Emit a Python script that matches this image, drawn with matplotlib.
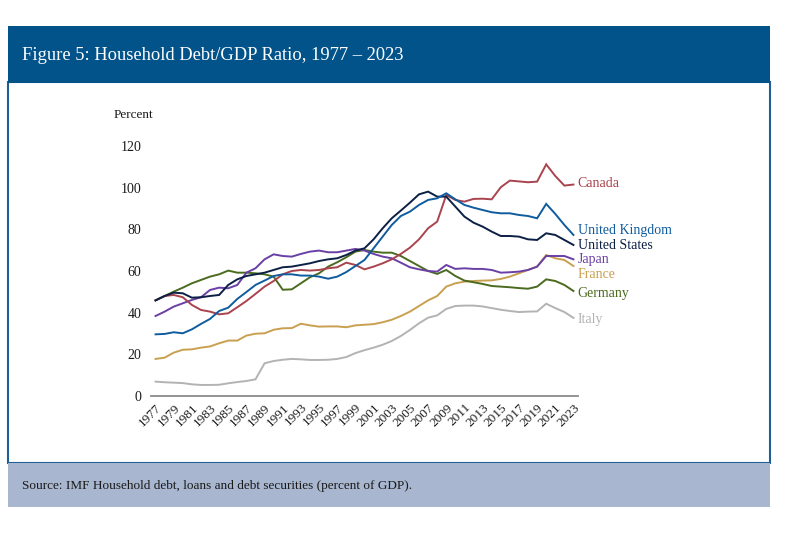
import matplotlib
matplotlib.use("Agg")
import matplotlib.pyplot as plt
from matplotlib.patches import Rectangle

plt.rcParams["font.family"] = ["Liberation Serif", "DejaVu Serif"]

# data (percent of GDP), 1977-2023
years = list(range(1977, 2024))

italy = [6.9, 6.6, 6.4, 6.2, 5.6, 5.3, 5.3, 5.4, 6.1, 6.7, 7.2, 8.0,
         15.7, 16.8, 17.4, 17.8, 17.6, 17.3, 17.3, 17.4, 17.8, 18.7, 20.6, 22.0,
         23.2, 24.6, 26.4, 28.8, 31.7, 34.9, 37.6, 38.7, 41.8, 43.2, 43.4, 43.4,
         43.0, 42.2, 41.4, 40.8, 40.3, 40.5, 40.6, 44.3, 42.2, 40.3, 37.5]
france = [17.8, 18.4, 20.8, 22.2, 22.4, 23.2, 23.8, 25.3, 26.6, 26.6, 29.0, 29.9,
          30.1, 31.8, 32.5, 32.6, 34.7, 33.9, 33.3, 33.4, 33.4, 33.0, 33.9, 34.2,
          34.5, 35.4, 36.6, 38.4, 40.5, 43.2, 45.9, 48.0, 52.5, 54.1, 54.9, 55.2,
          55.4, 55.5, 56.2, 57.3, 58.9, 60.5, 62.1, 67.7, 66.1, 65.3, 62.4]
germany = [45.9, 48.0, 50.1, 52.0, 54.1, 55.7, 57.3, 58.4, 60.2, 59.2, 59.2, 58.9,
           58.4, 57.3, 51.0, 51.2, 54.1, 57.0, 58.9, 62.1, 64.2, 66.6, 69.3, 70.1,
           69.3, 68.8, 68.8, 67.2, 64.8, 62.4, 60.0, 58.6, 60.5, 57.6, 55.4, 54.6,
           53.8, 52.8, 52.5, 52.2, 51.8, 51.5, 52.5, 56.0, 55.2, 53.3, 50.4]
japan = [38.4, 40.5, 42.9, 44.5, 46.1, 47.4, 50.9, 52.0, 51.7, 53.3, 59.2, 61.3,
         65.6, 68.0, 67.2, 66.9, 68.2, 69.3, 69.8, 69.0, 69.0, 69.8, 70.6, 69.8,
         68.2, 66.9, 66.1, 64.0, 61.8, 60.8, 60.0, 59.7, 62.9, 61.0, 61.3, 61.0,
         61.0, 60.5, 59.2, 59.4, 59.7, 60.5, 62.1, 67.2, 67.2, 67.2, 65.6]
canada = [45.9, 48.0, 48.5, 47.4, 43.7, 41.3, 40.5, 39.2, 39.7, 42.6, 45.6, 49.0,
          52.5, 55.2, 58.4, 60.0, 60.5, 60.2, 60.5, 61.3, 61.8, 64.0, 62.9, 60.8,
          62.1, 63.7, 65.6, 68.2, 71.2, 75.2, 80.5, 83.7, 96.5, 94.1, 93.3, 94.6,
          94.7, 94.4, 100.2, 103.4, 103.0, 102.6, 102.9, 111.2, 105.6, 101.0, 101.5]
us = [45.9, 48.0, 49.6, 49.3, 47.2, 47.4, 48.0, 48.5, 53.3, 56.0, 57.6, 58.4,
      59.2, 60.5, 61.8, 62.1, 62.9, 63.7, 64.8, 65.6, 66.1, 67.7, 69.8, 70.9,
      75.2, 80.5, 85.3, 89.0, 92.8, 96.8, 98.1, 95.7, 95.7, 90.9, 86.1, 83.2,
      81.3, 78.9, 76.8, 76.8, 76.5, 75.2, 74.9, 78.1, 77.3, 74.9, 72.5]
uk = [29.6, 29.8, 30.6, 30.1, 32.0, 34.6, 37.0, 40.8, 42.4, 46.6, 49.9, 53.3,
      55.4, 57.6, 58.4, 58.4, 57.8, 57.8, 57.3, 56.3, 57.3, 59.5, 62.4, 65.3,
      70.9, 76.5, 82.1, 86.4, 88.5, 91.7, 94.1, 94.9, 97.3, 94.4, 91.7, 90.4,
      89.3, 88.2, 87.7, 87.7, 86.9, 86.4, 85.3, 92.2, 87.4, 82.1, 77.3]

# name, values, colour, label nudge (points)
series = [
    ("Italy", italy, "#b3b3b3", -1),
    ("France", france, "#c9a04f", -6),
    ("Germany", germany, "#4b6b1f", -1.5),
    ("Japan", japan, "#6a3fa6", 0),
    ("Canada", canada, "#a9434d", 1),
    ("United States", us, "#0c1f45", -0.5),
    ("United Kingdom", uk, "#0f5c9e", 3),
]

fig = plt.figure(figsize=(8, 5.39), dpi=100)
W, H = 800, 539


def box(x0, y0, x1, y1, **kw):
    # pixel box (top-left origin) -> figure rectangle, kept behind the axes
    fig.patches.append(Rectangle((x0 / W, 1 - y1 / H), (x1 - x0) / W, (y1 - y0) / H,
                                 transform=fig.transFigure, zorder=-5, **kw))


box(8, 82, 770, 463, facecolor="white", edgecolor="#1f5e96", linewidth=1.5)
box(8, 26, 770, 83, facecolor="#02538a", edgecolor="none")
box(8, 463, 770, 507, facecolor="#a8b7cf", edgecolor="none")

fig.text(22 / W, 1 - 55 / H, "Figure 5: Household Debt/GDP Ratio, 1977 \u2013 2023",
         color="white", fontsize=13.3, va="center", ha="left")
fig.text(22 / W, 1 - 486 / H,
         "Source: IMF Household debt, loans and debt securities (percent of GDP).",
         color="#1a1a1a", fontsize=9.5, va="center", ha="left")

ax = fig.add_axes([151 / W, 1 - 396 / H, (578 - 151) / W, (396 - 146) / H])
ax.set_facecolor("none")
ax.set_zorder(2)

x = list(range(len(years)))
for name, vals, col, dy in series:
    ax.plot(x, vals, color=col, linewidth=1.4, solid_joinstyle="miter")
    ax.annotate(name, xy=(x[-1], vals[-1]), xytext=(3, dy), textcoords="offset points",
                color=col, fontsize=10, va="center", ha="left", annotation_clip=False)

ax.set_xlim(-0.5, len(years) - 0.5)
ax.set_ylim(0, 120)
ax.set_yticks(range(0, 121, 20))
ax.set_xticks(x[::2])
ax.set_xticklabels([str(y) for y in years[::2]], rotation=45, ha="right",
                   rotation_mode="anchor", fontsize=9.5)
ax.tick_params(axis="y", length=0, pad=7, labelsize=10, labelcolor="#1a1a1a")
ax.tick_params(axis="x", length=0, pad=4, labelcolor="#1a1a1a")
for s in ["top", "right", "left"]:
    ax.spines[s].set_visible(False)
ax.spines["bottom"].set_color("#8a8a8a")
ax.spines["bottom"].set_linewidth(1.3)

ax.text(-0.04, 1.124, "Percent", transform=ax.transAxes,
        ha="center", va="center", fontsize=9.5, color="#1a1a1a")

fig.savefig("out.png", dpi=100)
